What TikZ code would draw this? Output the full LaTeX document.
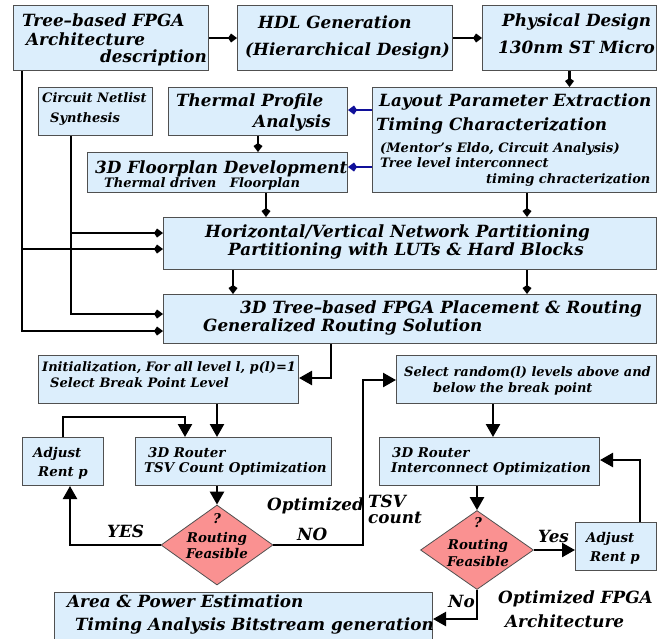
\documentclass[tikz,border=0pt]{standalone}
\usepackage{fontspec}
\setmainfont{DejaVu Serif}
\usetikzlibrary{arrows.meta,shapes.geometric,calc}
\definecolor{boxfill}{HTML}{DCEEFC}
\definecolor{boxline}{HTML}{505050}
\definecolor{diafill}{HTML}{FA9191}
\definecolor{bluearr}{HTML}{10109A}
\newcommand{\fBig}{\fontsize{16.8}{18}\selectfont\bfseries\itshape}
\newcommand{\fTight}{\fontsize{16.8}{16}\selectfont\bfseries\itshape}
\newcommand{\fMid}{\fontsize{13.4}{15}\selectfont\bfseries\itshape}
\newcommand{\fSm}{\fontsize{13}{14}\selectfont\bfseries\itshape}
\tikzset{
  box/.style={draw=boxline, fill=boxfill, line width=1pt, inner sep=0pt, anchor=north west},
  dia/.style={diamond, draw=boxline, fill=diafill, line width=0.8pt, inner sep=0pt},
  tx/.style={anchor=base west, inner sep=0pt},
  txc/.style={anchor=base, inner sep=0pt},
  txe/.style={anchor=base east, inner sep=0pt},
  arrS/.style={line width=2.6pt, -{Kite[length=9pt,width=9pt,inset=3pt]}},
  arrB/.style={line width=2.6pt, bluearr, -{Kite[length=9pt,width=9pt,inset=3pt]}},
  arrL/.style={line width=2.4pt, -{Triangle[length=13pt,width=14pt]}},
}
\begin{document}
\begin{tikzpicture}[x=1pt,y=-1pt]
\useasboundingbox (0,0) rectangle (668,638);
% boxes
\node[box, minimum width=195pt, minimum height=65pt] (b1) at (13,5) {};
\node[box, minimum width=215pt, minimum height=65pt] (hdl) at (237,5) {};
\node[box, minimum width=174pt, minimum height=65pt] (pd) at (482,5) {};
\node[box, minimum width=114pt, minimum height=48pt] (cn) at (38,87) {};
\node[box, minimum width=179pt, minimum height=48pt] (th) at (168,87) {};
\node[box, minimum width=284pt, minimum height=105pt] (lay) at (372,87) {};
\node[box, minimum width=260pt, minimum height=40pt] (fp) at (87,152) {};
\node[box, minimum width=493pt, minimum height=52pt] (hz) at (163,217) {};
\node[box, minimum width=493pt, minimum height=49pt] (pr) at (163,294) {};
\node[box, minimum width=260pt, minimum height=48pt] (init) at (38,355) {};
\node[box, minimum width=260pt, minimum height=48pt] (sel) at (396,355) {};
\node[box, minimum width=81pt, minimum height=48pt] (adj1) at (22,437) {};
\node[box, minimum width=196pt, minimum height=48pt] (tsv) at (135,437) {};
\node[box, minimum width=220pt, minimum height=48pt] (r2) at (379,437) {};
\node[box, minimum width=81pt, minimum height=48pt] (adj2) at (575,522) {};
\node[box, minimum width=378pt, minimum height=54pt] (area) at (54,592) {};
\node[dia, minimum width=112pt, minimum height=80pt] (d1) at (217,545) {};
\node[dia, minimum width=113pt, minimum height=79pt] (d2) at (477,550) {};
% texts
\node[tx] (t1a) at (22,26) {\fBig Tree–based FPGA};
\node[tx] (t1b) at (26,45) {\fBig Architecture};
\node[tx] (t1c) at (100,62) {\fBig description};
\node[tx] (t2a) at (258,28) {\fBig HDL Generation};
\node[tx] (t2b) at (245,55) {\fBig (Hierarchical Design)};
\node[tx] (t3a) at (502,26) {\fBig Physical Design};
\node[tx] (t3b) at (498,53) {\fBig 130nm ST Micro};
\node[tx] (tcna) at (42,102) {\fSm Circuit Netlist};
\node[tx] (tcnb) at (50,122) {\fSm Synthesis};
\node[tx] (ttha) at (176,106) {\fBig Thermal Profile};
\node[txe] (tthb) at (331,127) {\fBig Analysis};
\node[tx] (tfpa) at (95,173) {\fBig 3D Floorplan Development};
\node[tx] (tfpb) at (104,187) {\fSm Thermal driven\ \ \ Floorplan};
\node[tx] (tla) at (379,106) {\fBig Layout Parameter Extraction};
\node[tx] (tlb) at (376,130) {\fBig Timing Characterization};
\node[tx] (tlc) at (380,152) {\fSm (Mentor’s Eldo, Circuit Analysis)};
\node[tx] (tld) at (380,167) {\fSm Tree level interconnect};
\node[tx] (tle) at (486,183) {\fSm timing chracterization};
\node[tx] (thza) at (205,237) {\fBig Horizontal/Vertical Network Partitioning};
\node[tx] (thzb) at (228,255) {\fBig Partitioning with LUTs \& Hard Blocks};
\node[tx] (tpra) at (240,313) {\fBig 3D Tree–based FPGA Placement \& Routing};
\node[tx] (tprb) at (203,331) {\fBig Generalized Routing Solution};
\node[tx] (tina) at (42,371) {\fSm Initialization, For all level l, p(l)=1};
\node[tx] (tinb) at (50,387) {\fSm Select Break Point Level};
\node[tx] (tsla) at (404,376) {\fSm Select random(l) levels above and};
\node[tx] (tslb) at (433,392) {\fSm below the break point};
\node[tx] (ta1a) at (33,457) {\fMid Adjust};
\node[tx] (ta1b) at (38,476) {\fMid Rent p};
\node[tx] (ttsa) at (148,457) {\fMid 3D Router};
\node[tx] (ttsb) at (144,472) {\fMid TSV Count Optimization};
\node[tx] (tr2a) at (392,457) {\fMid 3D Router};
\node[tx] (tr2b) at (391,472) {\fMid Interconnect Optimization};
\node[tx] (ta2a) at (586,542) {\fMid Adjust};
\node[tx] (ta2b) at (590,561) {\fMid Rent p};
\node[txc] (td1a) at (217,523) {\fMid ?};
\node[txc] (td1b) at (217,542) {\fMid Routing};
\node[txc] (td1c) at (217,558) {\fMid Feasible};
\node[txc] (td2a) at (478,527) {\fMid ?};
\node[txc] (td2b) at (478,549) {\fMid Routing};
\node[txc] (td2c) at (478,566) {\fMid Feasible};
\node[tx] (tarea) at (67,607) {\fBig Area \& Power Estimation};
\node[tx] (tareb) at (75,630) {\fBig Timing Analysis Bitstream generation};
% labels
\node[tx] (lyes) at (107,537) {\fBig YES};
\node[tx] (lno) at (297,540) {\fBig NO};
\node[tx] (lopt) at (267,510) {\fBig Optimized};
\node[anchor=base west, inner sep=0pt, align=left, font=\fTight] (ltsv) at (368,523) {TSV\\count};
\node[tx] (lyes2) at (538,542) {\fBig Yes};
\node[tx] (lno2) at (448,607) {\fBig No};
\node[tx] (lofa) at (498,603) {\fBig Optimized FPGA};
\node[tx] (lofb) at (505,627) {\fBig Architecture};
% helper coordinates
\coordinate (xA) at (22,0);
\coordinate (xN) at (71,0);
\coordinate (xF) at (266,0);
\coordinate (xL) at (527,0);
\coordinate (xH) at (233,0);
\coordinate (xP) at (331,0);
\coordinate (xS) at (493,0);
\coordinate (xY) at (70,0);
\coordinate (xM) at (185,0);
\coordinate (xR) at (640,0);
\coordinate (yHa) at (0,233);
\coordinate (yHb) at (0,249);
\coordinate (yPa) at (0,314);
\coordinate (yPb) at (0,331);
\coordinate (yBt) at (0,110);
\coordinate (yBf) at (0,167);
\coordinate (yIn) at (0,378);
\coordinate (ySl) at (0,380);
\coordinate (yTop) at (0,417);
\coordinate (yR2) at (0,460);
\coordinate (yAr) at (0,619);
% connectors top
\draw[arrS] (b1) -- (hdl);
\draw[arrS] (hdl) -- (pd);
\draw[arrS] (pd.south) -- (pd.south |- lay.north);
\draw[arrB] (lay.west |- yBt) -- (th.east |- yBt);
\draw[arrB] (lay.west |- yBf) -- (fp.east |- yBf);
\draw[arrS] (th.south) -- (th.south |- fp.north);
\draw[arrS] (fp.south -| xF) -- (hz.north -| xF);
\draw[arrS] (lay.south -| xL) -- (hz.north -| xL);
\draw[arrS] (hz.south -| xH) -- (pr.north -| xH);
\draw[arrS] (hz.south -| xL) -- (pr.north -| xL);
\draw[arrS] (b1.south -| xA) |- (hz.west |- yHb);
\draw[arrS] (b1.south -| xA) |- (pr.west |- yPb);
\draw[arrS] (cn.south -| xN) |- (hz.west |- yHa);
\draw[arrS] (cn.south -| xN) |- (pr.west |- yPa);
% connectors bottom
\draw[arrL] (pr.south -| xP) |- (init.east |- yIn);
\draw[arrL] (init.south -| d1) -- (tsv.north -| d1);
\draw[arrL] (adj1.north) |- (yTop -| xM) -- (tsv.north -| xM);
\draw[arrL] (tsv.south -| d1) -- (d1.north);
\draw[arrL] (d1.west) -| (adj1.south -| xY);
\draw[arrL] (d1.east) -| (363,380) -- (sel.west |- ySl);
\draw[arrL] (sel.south -| xS) -- (r2.north -| xS);
\draw[arrL] (r2.south -| d2) -- (d2.north);
\draw[arrL] (d2.east) -- (adj2.west |- d2.east);
\draw[arrL] (adj2.north -| xR) |- (r2.east |- yR2);
\draw[arrL] (d2.south) |- (area.east |- yAr);
\end{tikzpicture}
\end{document}
